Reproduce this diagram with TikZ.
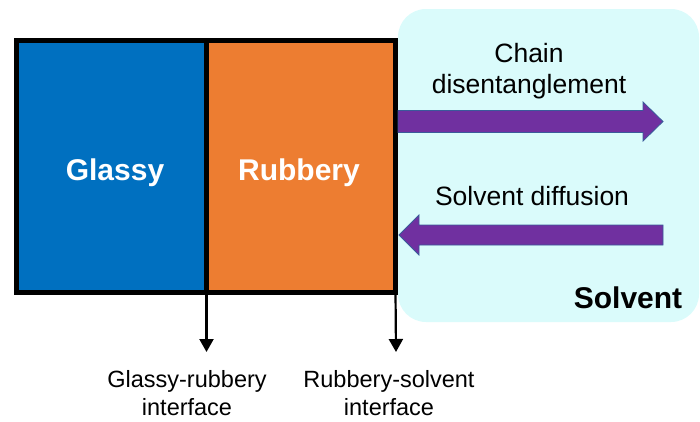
\documentclass[tikz,border=0pt]{standalone}
\usepackage{fontspec}
\setmainfont{Liberation Sans}
\usetikzlibrary{arrows.meta}
\definecolor{glassblue}{HTML}{0070C0}
\definecolor{rubborange}{HTML}{ED7D31}
\definecolor{solvcyan}{HTML}{DAFBFB}
\definecolor{arrpurple}{HTML}{7030A0}
\definecolor{arredge}{HTML}{3A5A9A}
\tikzset{
  phase/.style={draw=black, line width=5pt, inner sep=0pt, outer sep=0pt, minimum height=252pt},
  phaselabel/.style={text=white, font=\fontsize{30}{36}\selectfont\bfseries, anchor=base},
  blockarrow/.style={fill=arrpurple, draw=arredge, line width=0.8pt},
  labeltext/.style={font=\fontsize{26.5}{30.5}\selectfont, align=center, anchor=base},
  iflabel/.style={font=\fontsize{23.5}{28}\selectfont, align=center, anchor=base},
  ifarrow/.style={line width=2.2pt, -{Triangle[width=14pt,length=13pt]}}
}
\begin{document}
\begin{tikzpicture}[x=1pt,y=-1pt]
\useasboundingbox (0,0) rectangle (700,421);
% solvent region
\fill[solvcyan, rounded corners=28pt] (398,9) rectangle (699,322);
% phases
\node[phase, fill=glassblue, minimum width=190pt] (glassy) at (111.5,166) {};
\node[phase, fill=rubborange, minimum width=189pt] (rubbery) at (301,166) {};
\node[phaselabel] (glassyt) at (115,180.5) {Glassy};
\node[phaselabel] (rubberyt) at (299,180.5) {Rubbery};
% block arrows
\draw[blockarrow] (398,110.5) -- (643,110.5) -- (643,102) -- (663,121.5) -- (643,141) -- (643,132.5) -- (398,132.5) -- cycle;
\draw[blockarrow] (399,235) -- (419,215) -- (419,225) -- (663,225) -- (663,245) -- (419,245) -- (419,255) -- cycle;
% labels
\node[labeltext] (chain) at (529,93) {Chain\\disentanglement};
\node[labeltext] (diff) at (532,205) {Solvent diffusion};
\node[font=\fontsize{30}{36}\selectfont\bfseries, anchor=base] (solv) at (628,308) {Solvent};
% interface arrows
\coordinate (grend) at (206.5,352);
\coordinate (rsend) at (396,352);
\draw[ifarrow] (glassy.south east) -- (grend);
\draw[ifarrow] (rubbery.south east) -- (rsend);
\node[iflabel] (grlab) at (187,415.5) {Glassy-rubbery\\interface};
\node[iflabel] (rslab) at (389,415.5) {Rubbery-solvent\\interface};
\end{tikzpicture}
\end{document}
